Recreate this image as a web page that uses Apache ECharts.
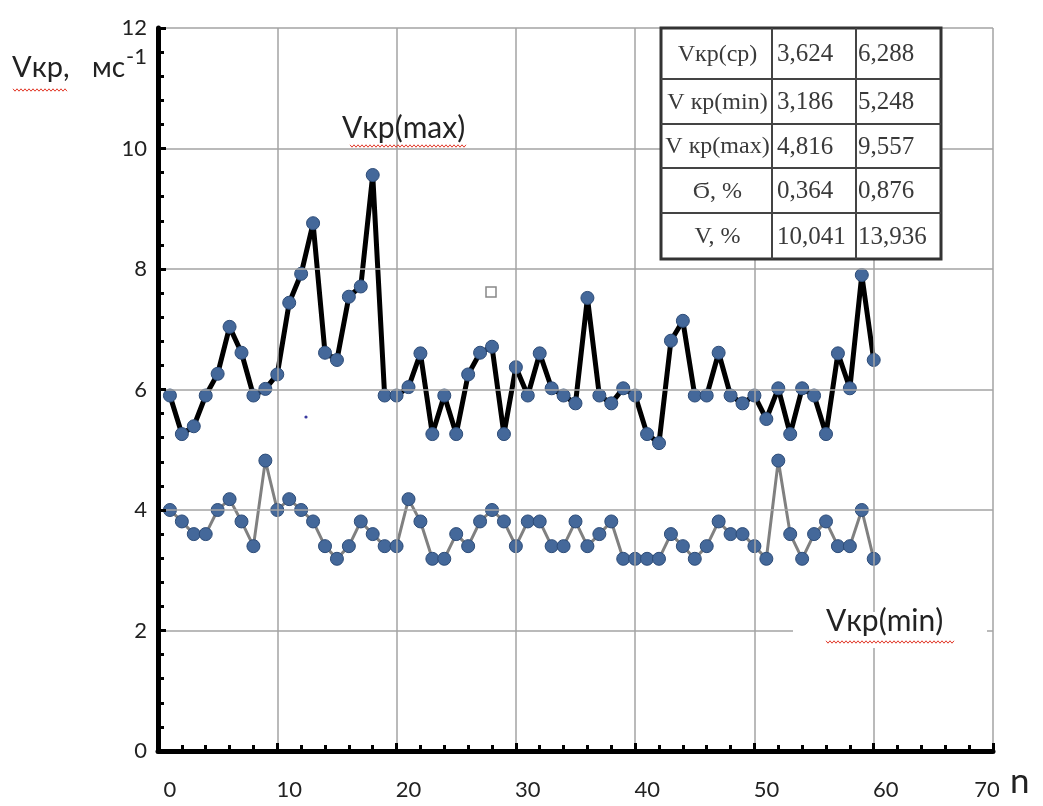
<!DOCTYPE html>
<html>
<head>
<meta charset="utf-8">
<script src="https://cdn.jsdelivr.net/npm/echarts@6/dist/echarts.min.js"></script>
<style>
  html, body { margin: 0; padding: 0; background: #ffffff; }
  #chart { width: 1043px; height: 806px; }
</style>
</head>
<body>
<div id="chart"></div>
<script>
// Critical velocity per sample n = 1..60 (upper curve: max, lower curve: min)
const vkpMax = [5.90, 5.26, 5.39, 5.90, 6.26, 7.04, 6.61, 5.90, 6.01, 6.25,
                7.44, 7.92, 8.76, 6.61, 6.49, 7.54, 7.71, 9.56, 5.90, 5.90,
                6.04, 6.60, 5.26, 5.90, 5.26, 6.25, 6.61, 6.71, 5.26, 6.37,
                5.90, 6.60, 6.02, 5.90, 5.77, 7.52, 5.90, 5.77, 6.02, 5.90,
                5.26, 5.11, 6.81, 7.14, 5.90, 5.90, 6.61, 5.90, 5.77, 5.90,
                5.51, 6.02, 5.26, 6.02, 5.90, 5.26, 6.60, 6.02, 7.90, 6.49];
const vkpMin = [4.00, 3.81, 3.60, 3.60, 4.00, 4.18, 3.81, 3.40, 4.82, 4.00,
                4.18, 4.00, 3.81, 3.40, 3.19, 3.40, 3.81, 3.60, 3.40, 3.40,
                4.18, 3.81, 3.19, 3.19, 3.60, 3.40, 3.81, 4.00, 3.81, 3.40,
                3.81, 3.81, 3.40, 3.40, 3.81, 3.40, 3.60, 3.81, 3.19, 3.19,
                3.19, 3.19, 3.60, 3.40, 3.19, 3.40, 3.81, 3.60, 3.60, 3.40,
                3.19, 4.82, 3.60, 3.19, 3.60, 3.81, 3.40, 3.40, 4.00, 3.19];

// Axis ranges / tick labels
const xTicks = [0, 10, 20, 30, 40, 50, 60, 70];
const yTicks = [0, 2, 4, 6, 8, 10, 12];

// Summary table
const tableLabels = ['Vкр(ср)', 'V кр(min)', 'V кр(max)', 'Ϭ, %', 'V, %'];
const tableColMin = ['3,624', '3,186', '4,816', '0,364', '10,041'];
const tableColMax = ['6,288', '5,248', '9,557', '0,876', '13,936'];

// Text
const yTitleMain = 'Vкр,';
const yTitleUnit = 'мс';
const yTitleExp = '-1';
const xName = 'n';
const labelMax = 'Vкр(max)';
const labelMin = 'Vкр(min)';

const toPairs = arr => arr.map((v, i) => [i + 1, v]);

// red spell-check style wavy underline
function wavy(x0, x1, y) {
  const pts = [];
  let up = true;
  for (let x = x0; x <= x1; x += 2) {
    pts.push([x, up ? y - 1.2 : y + 1.2]);
    up = !up;
  }
  return {
    type: 'polyline', z: 120, silent: true,
    shape: { points: pts },
    style: { stroke: '#e23a2a', lineWidth: 1, fill: null }
  };
}

function txt(text, x, y, font, fill, align, vAlign, z) {
  return {
    type: 'text', z: z || 110, silent: true,
    style: {
      text: text, x: x, y: y, font: font, fill: fill || '#222',
      align: align || 'left', textAlign: align || 'left',
      verticalAlign: vAlign || 'middle', textVerticalAlign: vAlign || 'middle'
    }
  };
}

// table layout
const tblX = [661, 772, 856, 941];
const tblY = [28, 79, 124, 168, 213, 259];
const tableEls = [];
tableEls.push({
  type: 'rect', z: 100, silent: true,
  shape: { x: tblX[0], y: tblY[0], width: tblX[3] - tblX[0], height: tblY[5] - tblY[0] },
  style: { fill: '#ffffff', stroke: '#333', lineWidth: 3 }
});
[tblX[1], tblX[2]].forEach(x => tableEls.push({
  type: 'line', z: 101, silent: true,
  shape: { x1: x, y1: tblY[0], x2: x, y2: tblY[5] },
  style: { stroke: '#444', lineWidth: 2 }
}));
tblY.slice(1, 5).forEach(y => tableEls.push({
  type: 'line', z: 101, silent: true,
  shape: { x1: tblX[0], y1: y, x2: tblX[3], y2: y },
  style: { stroke: '#444', lineWidth: 2 }
}));
const serif = '"Liberation Serif", "DejaVu Serif", serif';
tableLabels.forEach((t, i) => {
  const cy = (tblY[i] + tblY[i + 1]) / 2 + 1;
  tableEls.push(txt(t, (tblX[0] + tblX[1]) / 2 + 1, cy, '24px ' + serif, '#3a3a3a', 'center', 'middle', 102));
  tableEls.push(txt(tableColMin[i], tblX[1] + 5, cy, '25px ' + serif, '#3a3a3a', 'left', 'middle', 102));
  tableEls.push(txt(tableColMax[i], tblX[2] + 2, cy, '25px ' + serif, '#3a3a3a', 'left', 'middle', 102));
});

const sans = 'Lato, "Open Sans", sans-serif';

const graphics = [
  // axis title
  txt(yTitleMain, 12, 68, '29px ' + sans, '#222', 'left', 'middle'),
  txt(yTitleUnit, 92, 68, '28px ' + sans, '#222', 'left', 'middle'),
  txt(yTitleExp, 126, 57, '22px ' + sans, '#222', 'left', 'middle'),
  wavy(13, 67, 90),
  // series labels
  txt(labelMax, 342, 128, '30px ' + sans, '#222', 'left', 'middle'),
  wavy(350, 467, 146),
  { type: 'rect', z: 90, silent: true,
    shape: { x: 793, y: 612, width: 194, height: 36 },
    style: { fill: '#ffffff' } },
  txt(labelMin, 826, 621, '30px ' + sans, '#222', 'left', 'middle'),
  wavy(826, 955, 642),
  // stray marks
  { type: 'rect', z: 60, silent: true,
    shape: { x: 486, y: 287, width: 10, height: 10 },
    style: { fill: '#fff', stroke: '#888', lineWidth: 1.5 } },
  { type: 'circle', z: 60, silent: true,
    shape: { cx: 306, cy: 417, r: 1.6 },
    style: { fill: '#3a3aa0' } }
].concat(tableEls);

const tickStyle = () => ({ color: '#000', width: 3 });
const gridStyle = () => ({ color: '#a3a3a3', width: 1.5 });

const chart = echarts.init(document.getElementById('chart'), null, { renderer: 'canvas' });
chart.setOption({
  animation: false,
  backgroundColor: '#ffffff',
  grid: { left: 158, right: 50, top: 28, bottom: 55, containLabel: false },
  xAxis: {
    type: 'value',
    min: xTicks[0], max: xTicks[xTicks.length - 1], interval: 10,
    z: 5,
    name: xName,
    nameLocation: 'end',
    nameGap: 17,
    nameTextStyle: { fontFamily: sans, fontSize: 35, color: '#222',
                     verticalAlign: 'top', lineHeight: 35, padding: [13, 0, 0, 0] },
    axisLine: { show: true, onZero: false, lineStyle: { color: '#000', width: 5 } },
    axisTick: { show: true, inside: true, length: 8, lineStyle: tickStyle() },
    minorTick: { show: true, splitNumber: 5, length: 6, lineStyle: tickStyle() },
    splitLine: { show: true, showMinLine: false, lineStyle: gridStyle() },
    axisLabel: {
      margin: 28,
      fontFamily: sans, fontSize: 22, color: '#222',
      formatter: v => (v === xTicks[xTicks.length - 1] ? '{e|' + v + '}' : '{a|' + v + '}'),
      rich: {
        a: { fontFamily: sans, fontSize: 22, color: '#222', padding: [0, 0, 0, 24] },
        e: { fontFamily: sans, fontSize: 22, color: '#222', padding: [0, 12, 6, 0] }
      }
    }
  },
  yAxis: {
    type: 'value',
    min: yTicks[0], max: yTicks[yTicks.length - 1], interval: 2,
    z: 5,
    axisLine: { show: true, onZero: false, lineStyle: { color: '#000', width: 5 } },
    axisTick: { show: true, inside: true, length: 8, lineStyle: tickStyle() },
    minorTick: { show: true, splitNumber: 5, length: 6, lineStyle: tickStyle() },
    splitLine: { show: true, showMinLine: false, lineStyle: gridStyle() },
    axisLabel: { margin: 11, fontFamily: sans, fontSize: 22, color: '#222' }
  },
  series: [
    {
      name: labelMin,
      type: 'line',
      data: toPairs(vkpMin),
      symbol: 'circle',
      symbolSize: 13,
      lineStyle: { color: '#808080', width: 3 },
      itemStyle: { color: '#44689a', borderColor: '#2d4c78', borderWidth: 1 },
      z: 3
    },
    {
      name: labelMax,
      type: 'line',
      data: toPairs(vkpMax),
      symbol: 'circle',
      symbolSize: 13,
      lineStyle: { color: '#000000', width: 5 },
      itemStyle: { color: '#44689a', borderColor: '#2d4c78', borderWidth: 1 },
      z: 4
    }
  ],
  graphic: { elements: graphics }
});
</script>
</body>
</html>
